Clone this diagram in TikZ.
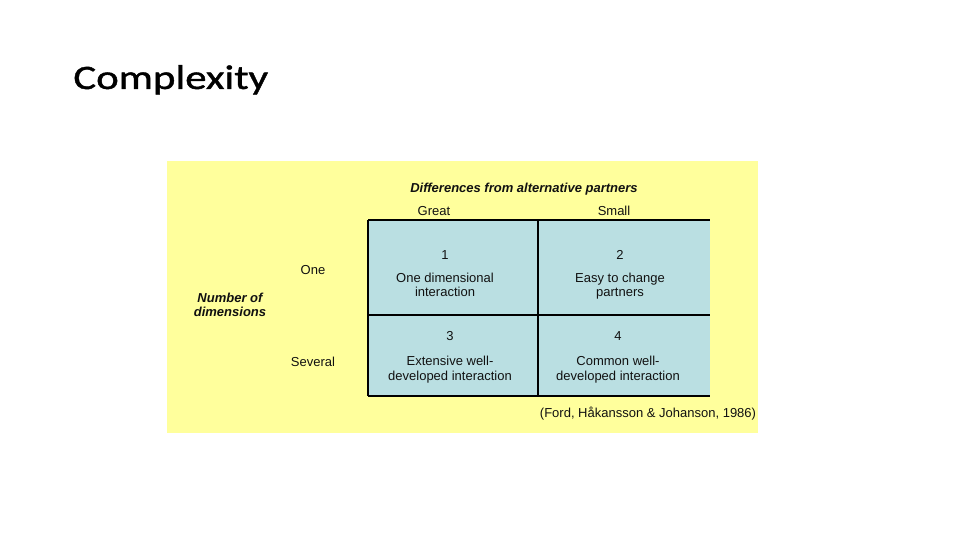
\documentclass[tikz,border=0pt]{standalone}
\usepackage{fontspec}
\setmainfont{Liberation Sans}
\newfontfamily\titlefont[FakeStretch=1.25,FakeBold=1.2]{Carlito}
\usepackage{xcolor}
\definecolor{PanelYellow}{HTML}{FFFF9C}
\definecolor{CellBlue}{HTML}{BADFE2}
\definecolor{InkBlack}{HTML}{111111}

\begin{document}
\begin{tikzpicture}[
	x=0.02cm,
	y=-0.02cm,
	cell/.style={
		rectangle,
		fill=CellBlue,
		inner sep=0pt,
		outer sep=0pt
	},
	% plain text in the matrix
	body/.style={
		text=InkBlack,
		font=\fontsize{7.4pt}{8.5pt}\selectfont,
		align=center,
		inner sep=0pt,
		anchor=base
	},
	head/.style={
		body,
		font=\fontsize{7.4pt}{8.5pt}\selectfont\bfseries\itshape
	},
	grid/.style={
		draw=black,
		line width=0.6pt
	}
	]
	
	\useasboundingbox (0,0) rectangle (960,540);
	\fill[white] (0,0) rectangle (960,540);
	
	% ================= TITLE =================
	\node[anchor=base west, inner sep=0pt, font=\titlefont\fontsize{19.5pt}{22pt}\selectfont] (title) at (73,89) {Complexity};
	
	% ================= PANEL =================
	\fill[PanelYellow] (167,161) rectangle (758,433);
	
	% ================= CELLS =================
	\node[cell, minimum width=3.4cm, minimum height=1.9cm] (c1) at (453,267.5) {};
	\node[cell, minimum width=3.44cm, minimum height=1.9cm] (c2) at (624,267.5) {};
	\node[cell, minimum width=3.4cm, minimum height=1.62cm] (c3) at (453,355.5) {};
	\node[cell, minimum width=3.44cm, minimum height=1.62cm] (c4) at (624,355.5) {};
	
	\draw[grid] (c1.north west) -- (c2.north east);
	\draw[grid] (c1.south west) -- (c2.south east);
	\draw[grid] (c3.south west) -- (c4.south east);
	\draw[grid] (c1.north west) -- (c3.south west);
	\draw[grid] (c1.north east) -- (c3.south east);
	
	% ================= LABELS =================
	% (two-line labels sit on their last baseline)
	\node[head] (xaxis) at (524,193) {Differences from alternative partners};
	\node[body] (great) at (434,216) {Great};
	\node[body] (small) at (614,216) {Small};
	
	\node[head] (yaxis) at (230,317) {Number of\\dimensions};
	\node[body] (one) at (313,275) {One};
	\node[body] (several) at (313,367) {Several};
	
	\node[body] (n1) at (445,260) {1};
	\node[body] (t1) at (445,297) {One dimensional\\interaction};
	\node[body] (n2) at (620,260) {2};
	\node[body] (t2) at (620,297) {Easy to change\\partners};
	\node[body] (n3) at (450,341) {3};
	\node[body] (t3) at (450,380) {Extensive well-\\developed interaction};
	\node[body] (n4) at (618,341) {4};
	\node[body] (t4) at (618,380) {Common well-\\developed interaction};
	
	\node[body] (source) at (648,418) {(Ford, Håkansson \& Johanson, 1986)};
	
\end{tikzpicture}
\end{document}
